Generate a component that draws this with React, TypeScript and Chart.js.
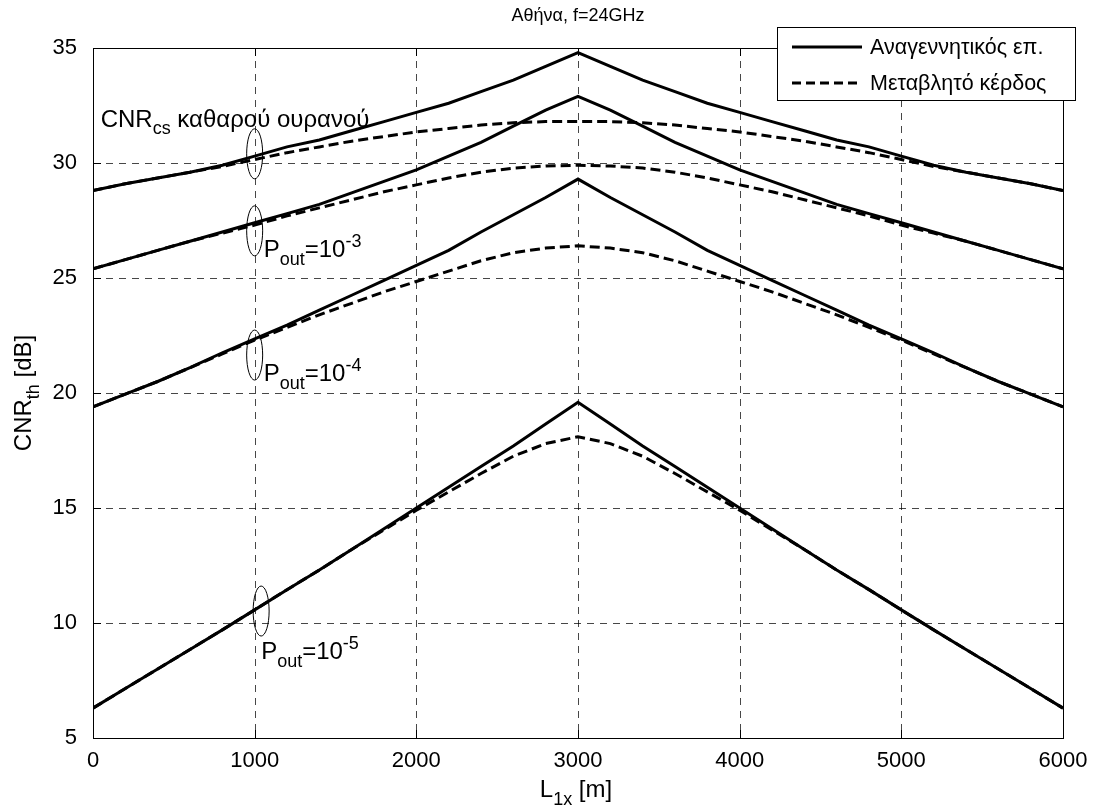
import React, { useEffect, useRef } from 'react';
import { Chart, registerables } from 'chart.js';

Chart.register(...registerables);

// ---- data ----
const distances = [0, 200, 400, 600, 800, 1000, 1200, 1400, 1600, 1800, 2000, 2200, 2400, 2600, 2800, 3000, 3200, 3400, 3600, 3800, 4000, 4200, 4400, 4600, 4800, 5000, 5200, 5400, 5600, 5800, 6000];

const clearSkyRegen = [28.8, 29.1, 29.35, 29.6, 29.9, 30.3, 30.7, 31.0, 31.4, 31.8, 32.2, 32.6, 33.1, 33.6, 34.2, 34.8, 34.2, 33.6, 33.1, 32.6, 32.2, 31.8, 31.4, 31.0, 30.7, 30.3, 29.9, 29.6, 29.35, 29.1, 28.8];
const clearSkyVar = [28.8, 29.1, 29.35, 29.6, 29.85, 30.15, 30.45, 30.7, 30.95, 31.15, 31.35, 31.5, 31.65, 31.75, 31.8, 31.8, 31.8, 31.75, 31.65, 31.5, 31.35, 31.15, 30.95, 30.7, 30.45, 30.15, 29.85, 29.6, 29.35, 29.1, 28.8];
const pout3Regen = [25.4, 25.8, 26.2, 26.6, 27.0, 27.4, 27.8, 28.2, 28.7, 29.2, 29.7, 30.3, 30.9, 31.6, 32.3, 32.9, 32.3, 31.6, 30.9, 30.3, 29.7, 29.2, 28.7, 28.2, 27.8, 27.4, 27.0, 26.6, 26.2, 25.8, 25.4];
const pout3Var = [25.4, 25.8, 26.2, 26.6, 26.95, 27.3, 27.7, 28.05, 28.4, 28.75, 29.05, 29.35, 29.6, 29.78, 29.87, 29.9, 29.87, 29.78, 29.6, 29.35, 29.05, 28.75, 28.4, 28.05, 27.7, 27.3, 26.95, 26.6, 26.2, 25.8, 25.4];
const pout4Regen = [19.4, 19.95, 20.5, 21.1, 21.75, 22.35, 22.95, 23.6, 24.25, 24.9, 25.55, 26.2, 27.0, 27.75, 28.5, 29.3, 28.5, 27.75, 27.0, 26.2, 25.55, 24.9, 24.25, 23.6, 22.95, 22.35, 21.75, 21.1, 20.5, 19.95, 19.4];
const pout4Var = [19.4, 19.95, 20.5, 21.1, 21.7, 22.3, 22.85, 23.4, 23.9, 24.4, 24.85, 25.3, 25.75, 26.1, 26.3, 26.4, 26.3, 26.1, 25.75, 25.3, 24.85, 24.4, 23.9, 23.4, 22.85, 22.3, 21.7, 21.1, 20.5, 19.95, 19.4];
const pout5Regen = [6.3, 7.15, 8.0, 8.85, 9.7, 10.57, 11.45, 12.3, 13.2, 14.1, 15.0, 15.9, 16.8, 17.7, 18.65, 19.6, 18.65, 17.7, 16.8, 15.9, 15.0, 14.1, 13.2, 12.3, 11.45, 10.57, 9.7, 8.85, 8.0, 7.15, 6.3];
const pout5Var = [6.3, 7.15, 8.0, 8.85, 9.7, 10.57, 11.45, 12.3, 13.2, 14.05, 14.9, 15.7, 16.5, 17.25, 17.8, 18.1, 17.8, 17.25, 16.5, 15.7, 14.9, 14.05, 13.2, 12.3, 11.45, 10.57, 9.7, 8.85, 8.0, 7.15, 6.3];

const legendLabels = ['Αναγεννητικός επ.', 'Μεταβλητό κέρδος'];
const titleText = 'Αθήνα, f=24GHz';

const FONT = '"Liberation Sans", Arial, Helvetica, sans-serif';

type Part = [string, 'n' | 'sub' | 'sup'];

function drawRich(ctx: CanvasRenderingContext2D, parts: Part[], x: number, y: number, size: number, align: 'left' | 'center' = 'left') {
  const small = Math.round(size * 0.76);
  const widths = parts.map(([t, m]) => {
    ctx.font = `${m === 'n' ? size : small}px ${FONT}`;
    return ctx.measureText(t).width;
  });
  const total = widths.reduce((a, b) => a + b, 0);
  let cx = align === 'center' ? x - total / 2 : x;
  ctx.textAlign = 'left';
  ctx.textBaseline = 'alphabetic';
  parts.forEach(([t, m], i) => {
    ctx.font = `${m === 'n' ? size : small}px ${FONT}`;
    const dy = m === 'sub' ? size * 0.32 : m === 'sup' ? -size * 0.42 : 0;
    ctx.fillText(t, cx, y + dy);
    cx += widths[i];
  });
}

const matlabPlugin = {
  id: 'matlabStyle',
  beforeDatasetsDraw(chart: any) {
    const { ctx, chartArea, scales } = chart;
    const { left, right, top, bottom } = chartArea;
    const xs = scales.x;
    const ys = scales.y;
    ctx.save();
    ctx.strokeStyle = 'rgba(0,0,0,0.72)';
    ctx.lineWidth = 1;
    ctx.setLineDash([7, 6]);
    xs.ticks.forEach((t: any) => {
      const px = Math.round(xs.getPixelForValue(t.value)) + 0.5;
      if (px <= left + 2 || px >= right - 2) return;
      ctx.beginPath();
      ctx.moveTo(px, top);
      ctx.lineTo(px, bottom);
      ctx.stroke();
    });
    ys.ticks.forEach((t: any) => {
      const py = Math.round(ys.getPixelForValue(t.value)) + 0.5;
      if (py <= top + 2 || py >= bottom - 2) return;
      ctx.beginPath();
      ctx.moveTo(left, py);
      ctx.lineTo(right, py);
      ctx.stroke();
    });
    ctx.restore();
  },
  afterDatasetsDraw(chart: any) {
    const { ctx, chartArea, scales } = chart;
    const { left, right, top, bottom } = chartArea;
    const xs = scales.x;
    const ys = scales.y;
    ctx.save();
    // box
    ctx.strokeStyle = '#000';
    ctx.lineWidth = 1;
    ctx.setLineDash([]);
    ctx.strokeRect(Math.round(left) + 0.5, Math.round(top) + 0.5, Math.round(right - left), Math.round(bottom - top));
    // inward ticks
    const tl = 8;
    xs.ticks.forEach((t: any) => {
      const px = Math.round(xs.getPixelForValue(t.value)) + 0.5;
      ctx.beginPath();
      ctx.moveTo(px, bottom); ctx.lineTo(px, bottom - tl);
      ctx.moveTo(px, top); ctx.lineTo(px, top + tl);
      ctx.stroke();
    });
    ys.ticks.forEach((t: any) => {
      const py = Math.round(ys.getPixelForValue(t.value)) + 0.5;
      ctx.beginPath();
      ctx.moveTo(left, py); ctx.lineTo(left + tl, py);
      ctx.moveTo(right, py); ctx.lineTo(right - tl, py);
      ctx.stroke();
    });

    // annotations: ellipses + labels
    ctx.fillStyle = '#000';
    const ann: { x: number; y: number; parts: Part[]; dx: number; dy: number }[] = [
      { x: 1000, y: 30.4, parts: [['CNR', 'n'], ['cs', 'sub'], [' καθαρού ουρανού', 'n']], dx: -154, dy: -27 },
      { x: 1000, y: 27.05, parts: [['P', 'n'], ['out', 'sub'], ['=10', 'n'], ['-3', 'sup']], dx: 9, dy: 26 },
      { x: 1000, y: 21.65, parts: [['P', 'n'], ['out', 'sub'], ['=10', 'n'], ['-4', 'sup']], dx: 9, dy: 26 },
      { x: 1040, y: 10.52, parts: [['P', 'n'], ['out', 'sub'], ['=10', 'n'], ['-5', 'sup']], dx: 0, dy: 48 },
    ];
    ann.forEach((a) => {
      const cx = xs.getPixelForValue(a.x);
      const cy = ys.getPixelForValue(a.y);
      ctx.beginPath();
      ctx.strokeStyle = '#000';
      ctx.lineWidth = 1;
      ctx.ellipse(cx, cy, 8, 25, 0, 0, Math.PI * 2);
      ctx.stroke();
      drawRich(ctx, a.parts, cx + a.dx, cy + a.dy, 24);
    });

    // legend
    const lx = 777, ly = 27, lw = 298, lh = 73;
    ctx.fillStyle = '#fff';
    ctx.fillRect(lx, ly, lw, lh);
    ctx.strokeStyle = '#000';
    ctx.lineWidth = 1;
    ctx.strokeRect(lx + 0.5, ly + 0.5, lw, lh);
    const rows = [47, 83];
    chart.data.datasets.slice(0, 2).forEach((_d: any, i: number) => {
      ctx.beginPath();
      ctx.lineWidth = 3;
      ctx.setLineDash(i === 0 ? [] : [9, 5]);
      ctx.moveTo(792, rows[i]);
      ctx.lineTo(862, rows[i]);
      ctx.stroke();
      ctx.setLineDash([]);
      ctx.fillStyle = '#000';
      ctx.font = `21.5px ${FONT}`;
      ctx.textAlign = 'left';
      ctx.textBaseline = 'alphabetic';
      ctx.fillText(legendLabels[i], 870, rows[i] + 7);
    });

    // title
    ctx.fillStyle = '#000';
    ctx.font = `18px ${FONT}`;
    ctx.textAlign = 'center';
    ctx.textBaseline = 'alphabetic';
    ctx.fillText(titleText, (left + right) / 2, 21);

    // x axis title
    drawRich(ctx, [['L', 'n'], ['1x', 'sub'], [' [m]', 'n']], (left + right) / 2 - 2, 797, 24, 'center');

    // y axis title
    ctx.save();
    ctx.translate(31, (top + bottom) / 2);
    ctx.rotate(-Math.PI / 2);
    drawRich(ctx, [['CNR', 'n'], ['th', 'sub'], [' [dB]', 'n']], 0, 0, 24, 'center');
    ctx.restore();

    ctx.restore();
  },
};

export default function App() {
  const ref = useRef<HTMLCanvasElement | null>(null);
  useEffect(() => {
    if (!ref.current) return;
    const mk = (arr: number[]) => distances.map((d, i) => ({ x: d, y: arr[i] }));
    const solid = { borderColor: '#000', borderWidth: 3, pointRadius: 0, fill: false, tension: 0 };
    const dashed = { ...solid, borderDash: [10, 5] };
    const chart = new Chart(ref.current, {
      type: 'line',
      data: {
        datasets: [
          { label: legendLabels[0], data: mk(clearSkyRegen), ...solid },
          { label: legendLabels[1], data: mk(clearSkyVar), ...dashed },
          { label: legendLabels[1], data: mk(pout3Var), ...dashed },
          { label: legendLabels[1], data: mk(pout4Var), ...dashed },
          { label: legendLabels[1], data: mk(pout5Var), ...dashed },
          { label: legendLabels[0], data: mk(pout3Regen), ...solid },
          { label: legendLabels[0], data: mk(pout4Regen), ...solid },
          { label: legendLabels[0], data: mk(pout5Regen), ...solid },
        ],
      },
      options: {
        animation: false,
        responsive: true,
        maintainAspectRatio: false,
        layout: { padding: { top: 48, right: 30, left: 0, bottom: 0 } },
        plugins: { legend: { display: false }, title: { display: false }, tooltip: { enabled: false } },
        scales: {
          x: {
            type: 'linear',
            min: 0,
            max: 6000,
            ticks: {
              stepSize: 1000,
              color: '#000',
              font: { family: FONT, size: 22 },
              padding: 2,
              maxRotation: 0,
              callback: (v: any) => String(v),
            },
            grid: { display: false },
            border: { display: false },
            afterFit: (s: any) => { s.height = 71; },
          },
          y: {
            type: 'linear',
            min: 5,
            max: 35,
            ticks: { stepSize: 5, color: '#000', font: { family: FONT, size: 22 }, padding: 8, callback: (v: any) => String(v) },
            grid: { display: false },
            border: { display: false },
            afterFit: (s: any) => { s.width = 93; },
          },
        },
      },
      plugins: [matlabPlugin],
    } as any);
    return () => chart.destroy();
  }, []);
  return (
    <div style={{ position: 'absolute', left: 0, top: 0, width: 1093, height: 809, background: '#fff' }}>
      <canvas ref={ref} style={{ display: 'block' }} />
    </div>
  );
}
